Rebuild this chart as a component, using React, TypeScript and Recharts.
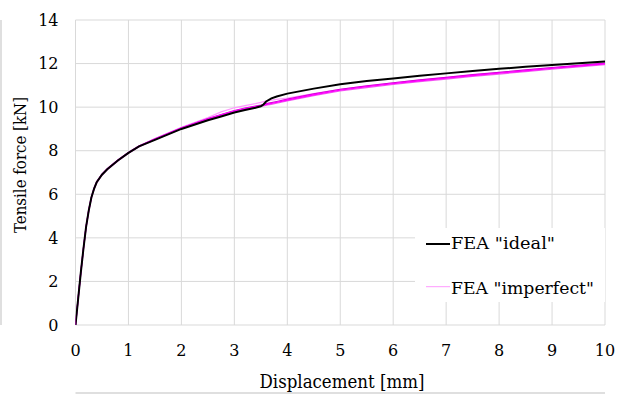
import React from "react";
import { LineChart, Line, XAxis, YAxis, CartesianGrid, Legend, Label } from "recharts";

const displacement = [0, 0.05, 0.1, 0.15, 0.2, 0.25, 0.3, 0.35, 0.4, 0.5, 0.6, 0.8, 1.0, 1.2, 1.5, 2.0, 2.5, 2.75, 3.0, 3.2, 3.4, 3.5, 3.55, 3.6, 3.7, 3.8, 4.0, 4.5, 5.0, 5.5, 6.0, 6.5, 7.0, 7.5, 8.0, 8.5, 9.0, 9.5, 10.0];

const ideal = [0, 1.2, 2.4, 3.5, 4.5, 5.25, 5.85, 6.25, 6.55, 6.9, 7.15, 7.55, 7.9, 8.2, 8.5, 9.0, 9.4, 9.57, 9.75, 9.87, 9.97, 10.04, 10.12, 10.26, 10.4, 10.49, 10.62, 10.85, 11.05, 11.2, 11.32, 11.44, 11.55, 11.66, 11.76, 11.85, 11.94, 12.02, 12.1];

const imperfectA = [0, 1.2, 2.4, 3.5, 4.5, 5.25, 5.85, 6.25, 6.55, 6.9, 7.15, 7.55, 7.9, 8.2, 8.52, 9.03, 9.45, 9.64, 9.82, 9.93, 10.02, 10.06, 10.09, 10.12, 10.17, 10.22, 10.33, 10.57, 10.78, 10.94, 11.08, 11.21, 11.33, 11.45, 11.56, 11.67, 11.78, 11.89, 11.99];

const imperfectB = [0, 1.22, 2.43, 3.53, 4.52, 5.27, 5.87, 6.27, 6.57, 6.92, 7.17, 7.57, 7.92, 8.22, 8.55, 9.05, 9.47, 9.66, 9.84, 9.96, 10.05, 10.1, 10.13, 10.16, 10.21, 10.26, 10.37, 10.61, 10.82, 10.98, 11.12, 11.25, 11.37, 11.49, 11.6, 11.71, 11.82, 11.92, 12.02];

const imperfectC = [0, 1.18, 2.38, 3.48, 4.48, 5.23, 5.83, 6.23, 6.53, 6.88, 7.13, 7.53, 7.88, 8.18, 8.5, 9.01, 9.43, 9.62, 9.8, 9.9, 9.99, 10.03, 10.06, 10.09, 10.13, 10.18, 10.29, 10.53, 10.74, 10.9, 11.04, 11.17, 11.29, 11.41, 11.52, 11.63, 11.74, 11.85, 11.95];

const imperfectD = [0, 1.22, 2.43, 3.53, 4.53, 5.28, 5.88, 6.28, 6.58, 6.93, 7.18, 7.58, 7.93, 8.23, 8.56, 9.08, 9.52, 9.78, 9.97, 10.07, 10.16, 10.22, 10.25, 10.28, 10.32, 10.36, 10.42, 10.62, 10.82, 10.97, 11.11, 11.24, 11.36, 11.48, 11.59, 11.7, 11.8, 11.91, 12.01];

const xTicks = [0, 1, 2, 3, 4, 5, 6, 7, 8, 9, 10];
const yTicks = [0, 2, 4, 6, 8, 10, 12, 14];
const xMinorTicks = [0, 0.2, 0.4, 0.6, 0.8, 1, 1.2, 1.4, 1.6, 1.8, 2, 2.2, 2.4, 2.6, 2.8, 3, 3.2, 3.4, 3.6, 3.8, 4, 4.2, 4.4, 4.6, 4.8, 5, 5.2, 5.4, 5.6, 5.8, 6, 6.2, 6.4, 6.6, 6.8, 7, 7.2, 7.4, 7.6, 7.8, 8, 8.2, 8.4, 8.6, 8.8, 9, 9.2, 9.4, 9.6, 9.8, 10];
const yMinorTicks = [0, 0.4, 0.8, 1.2, 1.6, 2, 2.4, 2.8, 3.2, 3.6, 4, 4.4, 4.8, 5.2, 5.6, 6, 6.4, 6.8, 7.2, 7.6, 8, 8.4, 8.8, 9.2, 9.6, 10, 10.4, 10.8, 11.2, 11.6, 12, 12.4, 12.8, 13.2, 13.6, 14];

const rows = displacement.map((x, i) => ({
  x,
  ideal: ideal[i],
  impA: imperfectA[i],
  impB: imperfectB[i],
  impC: imperfectC[i],
  impD: imperfectD[i],
}));

const FONT = "DejaVu Serif";
const AXIS = "#bfbfbf";
const GRID = "#d9d9d9";

const LegendBox = () => (
  <svg width={190} height={74} style={{ display: "block", background: "#fff" }}>
    <line x1={11} x2={35} y1={16} y2={16} stroke="#000" strokeWidth={2} />
    <text x={36} y={21.3} fontFamily={FONT} fontSize={16.5} textLength={104} lengthAdjust="spacingAndGlyphs" fill="#000">FEA "ideal"</text>
    <line x1={11} x2={35} y1={58.7} y2={58.7} stroke="#ff99ff" strokeWidth={1} />
    <text x={36} y={66} fontFamily={FONT} fontSize={16.5} textLength={143} lengthAdjust="spacingAndGlyphs" fill="#000">FEA "imperfect"</text>
  </svg>
);

export default function App() {
  return (
    <div style={{ position: "absolute", left: 0, top: 0 }}>
      <LineChart width={617} height={394} data={rows} margin={{ top: 20, right: 12, bottom: 0, left: 0 }}>
        <CartesianGrid stroke={GRID} strokeWidth={1} />
        <XAxis
          xAxisId="minor"
          dataKey="x"
          type="number"
          domain={[0, 10]}
          ticks={xMinorTicks}
          height={1}
          tick={false}
          tickSize={-4}
          tickLine={{ stroke: AXIS }}
          axisLine={{ stroke: AXIS }}
          allowDataOverflow
        />
        <XAxis
          dataKey="x"
          type="number"
          domain={[0, 10]}
          ticks={xTicks}
          height={68}
          tickSize={0}
          tickMargin={20}
          tickLine={false}
          axisLine={false}
          tick={{ fontFamily: FONT, fontSize: 16, fill: "#000" }}
          allowDataOverflow
        >
          <Label
            content={() => (
              <text x={342} y={388} textAnchor="middle" fontFamily={FONT} fontSize={18} textLength={165} lengthAdjust="spacingAndGlyphs" fill="#000">
                Displacement [mm]
              </text>
            )}
          />
        </XAxis>
        <YAxis
          yAxisId="minor"
          type="number"
          domain={[0, 14]}
          ticks={yMinorTicks}
          width={1}
          tick={false}
          tickSize={-5}
          tickLine={{ stroke: AXIS }}
          axisLine={{ stroke: AXIS }}
          allowDataOverflow
        />
        <YAxis
          type="number"
          domain={[0, 14]}
          ticks={yTicks}
          width={74.5}
          tickSize={0}
          tickMargin={17}
          tickLine={false}
          axisLine={false}
          tick={{ fontFamily: FONT, fontSize: 16, fill: "#000" }}
          allowDataOverflow
        >
          <Label
            content={() => (
              <text x={0} y={0} transform="translate(26,165) rotate(-90)" textAnchor="middle" fontFamily={FONT} fontSize={17} textLength={136} lengthAdjust="spacingAndGlyphs" fill="#000">
                Tensile force [kN]
              </text>
            )}
          />
        </YAxis>
        <Line dataKey="impD" stroke="#ff99ff" strokeWidth={1.2} dot={false} isAnimationActive={false} />
        <Line dataKey="impB" stroke="#d000d0" strokeWidth={1.2} dot={false} isAnimationActive={false} />
        <Line dataKey="impC" stroke="#f060f0" strokeWidth={1.2} dot={false} isAnimationActive={false} />
        <Line dataKey="impA" stroke="#ff00ff" strokeWidth={1.4} dot={false} isAnimationActive={false} />
        <Line dataKey="ideal" stroke="#000000" strokeWidth={2} dot={false} isAnimationActive={false} />
        <Legend
          layout="vertical"
          align="center"
          verticalAlign="middle"
          wrapperStyle={{ left: 415, top: 228, width: 190, height: 74 }}
          content={() => <LegendBox />}
        />
      </LineChart>
    </div>
  );
}
